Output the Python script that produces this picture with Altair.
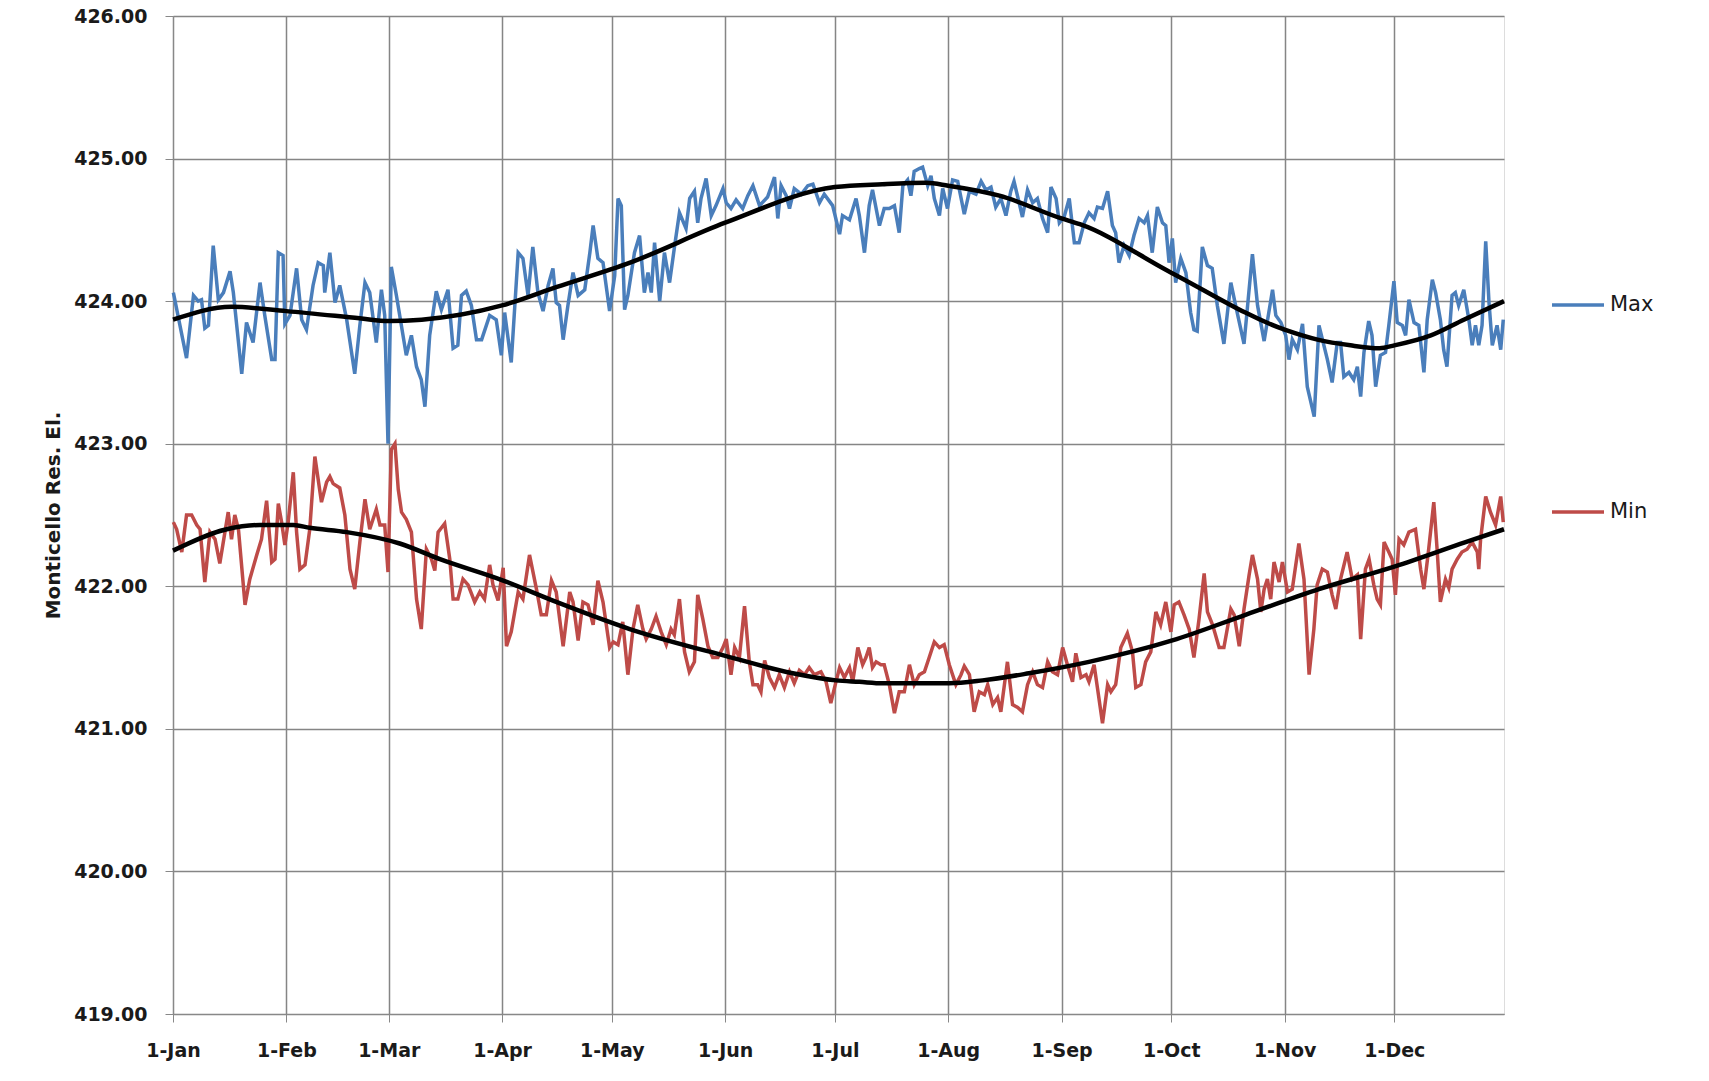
import altair as alt
import pandas as pd

# ---- axis labels ----
month_labels = ["1-Jan", "1-Feb", "1-Mar", "1-Apr", "1-May", "1-Jun",
                "1-Jul", "1-Aug", "1-Sep", "1-Oct", "1-Nov", "1-Dec"]
month_days = [0, 31, 59, 90, 120, 151, 181, 212, 243, 273, 304, 334]
y_ticks = [419, 420, 421, 422, 423, 424, 425, 426]

# ---- Max series (day of year, elevation) ----
max_day = [0.1, 3.7, 5.6, 6.9, 7.8, 8.7, 9.7, 11.0, 12.4, 13.8, 15.6, 16.5, 18.8, 20.1, 21.9,
           23.8, 25.1, 27.0, 27.9, 28.8, 30.1, 30.6, 32.0, 33.8, 35.2, 36.5, 38.3, 39.7, 41.1,
           41.5, 42.9, 44.3, 45.6, 47.5, 49.7, 51.1, 52.5, 53.8, 55.6, 57.0, 57.9, 58.8, 59.7,
           61.1, 63.8, 65.2, 66.6, 67.9, 68.9, 70.2, 72.0, 73.4, 75.2, 76.6, 77.9, 78.9, 80.2,
           81.6, 83.0, 84.4, 86.6, 88.4, 89.8, 90.7, 92.5, 94.4, 95.7, 97.1, 98.4, 99.8, 101.2,
           102.6, 103.9, 104.8, 105.7, 106.7, 108.0, 109.4, 110.8, 112.6, 114.0, 114.9, 116.2,
           117.6, 119.4, 120.8, 121.7, 122.6, 123.5, 124.4, 126.2, 127.6, 128.9, 129.9, 130.8,
           131.7, 133.1, 134.4, 135.8, 137.2, 138.5, 140.3, 141.3, 142.6, 143.5, 144.4, 145.8,
           147.2, 148.5, 150.4, 151.3, 152.6, 154.0, 155.8, 157.2, 158.6, 160.4, 162.6, 164.5,
           165.4, 166.3, 167.7, 168.6, 169.9, 171.8, 173.6, 175.0, 176.8, 178.1, 180.4, 182.3,
           183.1, 185.0, 186.8, 187.7, 189.1, 190.4, 191.3, 193.2, 194.5, 195.9, 197.3, 198.6,
           199.6, 200.9, 201.8, 202.7, 204.1, 205.0, 206.4, 207.3, 208.2, 209.6, 210.5, 211.8,
           213.2, 214.6, 216.4, 217.8, 219.6, 221.0, 222.3, 223.7, 225.0, 226.4, 227.8, 229.1,
           230.0, 231.4, 232.3, 233.7, 235.1, 236.4, 237.8, 239.2, 240.1, 241.5, 242.4, 243.7,
           245.1, 246.5, 247.8, 249.2, 250.5, 251.9, 252.8, 254.2, 255.6, 256.9, 257.8, 258.7,
           260.1, 261.5, 262.8, 264.2, 265.6, 266.5, 267.8, 269.2, 270.6, 271.5, 272.4, 273.3,
           274.2, 275.6, 277.0, 278.3, 279.2, 280.1, 281.5, 282.9, 284.2, 285.6, 287.4, 289.3,
           290.6, 292.9, 295.2, 296.6, 298.4, 300.7, 301.6, 303.0, 304.3, 305.2, 306.1, 307.5,
           308.9, 310.2, 312.1, 313.4, 315.7, 317.0, 318.4, 319.3, 320.2, 321.6, 322.9, 323.9,
           324.8, 325.7, 327.0, 327.9, 328.9, 330.2, 331.6, 332.5, 333.9, 334.8, 336.2, 337.1,
           338.0, 339.4, 340.7, 342.1, 343.0, 344.4, 345.3, 346.6, 347.5, 348.4, 349.8, 350.7,
           351.6, 353.0, 354.4, 355.3, 356.2, 357.1, 358.0, 359.0, 359.9, 360.8, 362.1, 363.1,
           363.8]
max_val = [424.06, 423.60, 424.04, 424.00, 424.01, 423.81, 423.83, 424.39, 424.01, 424.06, 424.21,
           424.06, 423.49, 423.85, 423.71, 424.13, 423.90, 423.59, 423.59, 424.34, 424.32, 423.84,
           423.90, 424.23, 423.87, 423.80, 424.11, 424.27, 424.25, 424.06, 424.34, 423.99, 424.11,
           423.87, 423.49, 423.83, 424.13, 424.06, 423.71, 424.08, 423.90, 423.00, 424.24, 424.04,
           423.62, 423.76, 423.54, 423.45, 423.26, 423.76, 424.07, 423.94, 424.08, 423.67, 423.69,
           424.04, 424.07, 423.97, 423.73, 423.73, 423.90, 423.87, 423.62, 423.92, 423.57, 424.34,
           424.30, 424.04, 424.38, 424.06, 423.93, 424.11, 424.23, 423.99, 423.97, 423.73, 423.97,
           424.20, 424.04, 424.08, 424.34, 424.53, 424.30, 424.27, 423.93, 424.18, 424.72, 424.67,
           423.94, 424.04, 424.34, 424.46, 424.06, 424.20, 424.06, 424.41, 424.00, 424.34, 424.13,
           424.39, 424.62, 424.51, 424.72, 424.77, 424.55, 424.72, 424.86, 424.60, 424.67, 424.79,
           424.69, 424.65, 424.71, 424.65, 424.74, 424.81, 424.67, 424.73, 424.87, 424.58, 424.81,
           424.74, 424.65, 424.79, 424.75, 424.81, 424.82, 424.69, 424.75, 424.67, 424.47, 424.60,
           424.57, 424.72, 424.60, 424.34, 424.67, 424.78, 424.53, 424.65, 424.65, 424.67, 424.48,
           424.81, 424.85, 424.74, 424.91, 424.93, 424.94, 424.81, 424.88, 424.72, 424.60, 424.79,
           424.65, 424.85, 424.84, 424.61, 424.77, 424.75, 424.84, 424.78, 424.80, 424.66, 424.72,
           424.60, 424.77, 424.84, 424.69, 424.59, 424.78, 424.69, 424.72, 424.58, 424.48, 424.80,
           424.72, 424.55, 424.59, 424.72, 424.41, 424.41, 424.55, 424.62, 424.58, 424.66, 424.65,
           424.77, 424.53, 424.48, 424.27, 424.39, 424.32, 424.46, 424.58, 424.55, 424.60, 424.34,
           424.66, 424.55, 424.53, 424.27, 424.44, 424.13, 424.30, 424.20, 423.92, 423.80, 423.79,
           424.38, 424.25, 424.23, 423.97, 423.70, 424.13, 423.97, 423.70, 424.33, 423.97, 423.72,
           424.08, 423.90, 423.85, 423.76, 423.59, 423.73, 423.66, 423.84, 423.40, 423.19, 423.83,
           423.59, 423.43, 423.71, 423.71, 423.47, 423.50, 423.45, 423.54, 423.33, 423.64, 423.86,
           423.76, 423.40, 423.62, 423.64, 423.83, 424.14, 423.85, 423.83, 423.76, 424.01, 423.85,
           423.83, 423.50, 423.87, 424.15, 424.06, 423.87, 423.66, 423.54, 424.04, 424.06, 423.97,
           424.08, 423.87, 423.69, 423.83, 423.69, 423.83, 424.42, 423.99, 423.69, 423.83, 423.66,
           423.87]

# ---- Min series ----
min_day = [0.1, 1.0, 2.4, 3.7, 5.1, 6.5, 7.4, 8.7, 10.1, 11.5, 12.8, 14.2, 15.1, 16.0, 16.9,
           17.9, 19.7, 21.0, 22.9, 24.2, 25.6, 27.0, 27.9, 28.8, 29.7, 30.6, 31.5, 32.9, 33.8,
           34.7, 36.1, 37.4, 38.8, 40.6, 42.0, 42.9, 43.8, 45.6, 47.0, 48.4, 49.7, 51.1, 52.5,
           53.8, 55.6, 56.6, 57.9, 58.8, 59.7, 60.7, 61.6, 62.5, 63.8, 65.2, 66.6, 67.9, 69.3,
           70.7, 71.6, 72.5, 74.3, 75.7, 76.6, 77.9, 79.3, 80.7, 82.5, 83.9, 85.2, 86.6, 87.5,
           88.9, 90.3, 91.2, 92.5, 94.4, 95.7, 97.5, 99.4, 100.7, 102.1, 103.5, 104.8, 106.7,
           108.5, 109.4, 110.8, 112.1, 113.5, 114.9, 116.2, 117.6, 119.4, 120.4, 121.7, 123.0,
           124.4, 125.8, 127.1, 128.5, 129.4, 130.8, 132.1, 133.5, 134.9, 136.2, 137.1, 138.5,
           139.9, 141.2, 142.6, 143.5, 144.9, 146.3, 147.6, 149.0, 150.4, 151.3, 152.6, 153.6,
           154.9, 156.3, 157.6, 158.6, 159.9, 160.8, 161.8, 163.1, 164.5, 165.8, 167.2, 168.6,
           169.9, 171.3, 172.7, 174.0, 175.4, 177.2, 178.6, 179.9, 181.3, 182.3, 183.6, 185.0,
           185.9, 187.3, 188.6, 189.5, 190.4, 191.3, 192.3, 193.6, 194.5, 195.9, 197.3, 198.6,
           200.0, 201.4, 202.7, 204.1, 205.5, 206.8, 208.2, 209.6, 210.9, 212.3, 214.1, 215.5,
           216.4, 217.8, 219.1, 220.5, 221.9, 222.8, 224.2, 225.5, 226.4, 228.2, 229.6, 231.0,
           232.3, 233.7, 235.1, 236.4, 237.8, 239.2, 240.5, 241.9, 243.3, 244.6, 246.0, 246.9,
           248.3, 249.7, 250.5, 251.9, 252.8, 254.2, 255.6, 256.5, 257.8, 259.2, 261.0, 262.4,
           263.3, 264.7, 266.0, 267.4, 268.8, 270.1, 271.5, 272.9, 273.8, 275.1, 276.5, 277.9,
           279.2, 280.6, 282.0, 282.9, 284.3, 286.1, 287.4, 289.3, 290.2, 291.6, 292.9, 294.3,
           295.2, 296.6, 297.5, 298.4, 299.3, 300.2, 301.1, 302.5, 303.4, 304.8, 306.1, 307.9,
           309.3, 310.7, 312.0, 312.9, 314.3, 315.7, 317.0, 318.0, 319.3, 321.1, 322.5, 323.9,
           324.8, 326.1, 327.1, 328.4, 329.3, 330.2, 331.2, 332.5, 333.4, 334.3, 335.3, 336.6,
           338.0, 339.8, 341.2, 342.1, 343.4, 344.8, 345.7, 346.6, 348.0, 348.9, 349.8, 351.2,
           352.5, 353.9, 355.3, 356.7, 357.1, 357.6, 359.0, 360.3, 361.7, 363.1, 363.8]
min_val = [422.45, 422.40, 422.24, 422.50, 422.50, 422.43, 422.40, 422.03, 422.38, 422.33, 422.16,
           422.38, 422.52, 422.33, 422.50, 422.40, 421.87, 422.05, 422.22, 422.33, 422.60, 422.17,
           422.19, 422.58, 422.45, 422.29, 422.45, 422.80, 422.38, 422.12, 422.15, 422.40, 422.91,
           422.59, 422.73, 422.77, 422.72, 422.69, 422.50, 422.12, 421.98, 422.31, 422.61, 422.40,
           422.54, 422.43, 422.43, 422.10, 422.96, 423.00, 422.68, 422.52, 422.47, 422.38, 421.91,
           421.70, 422.26, 422.19, 422.11, 422.38, 422.44, 422.19, 421.91, 421.91, 422.05, 422.01,
           421.89, 421.96, 421.91, 422.15, 422.01, 421.90, 422.13, 421.58, 421.68, 421.96, 421.91,
           422.22, 421.98, 421.80, 421.80, 422.04, 421.96, 421.58, 421.96, 421.89, 421.62, 421.89,
           421.87, 421.73, 422.04, 421.89, 421.57, 421.61, 421.59, 421.75, 421.38, 421.70, 421.87,
           421.70, 421.63, 421.70, 421.79, 421.68, 421.59, 421.70, 421.66, 421.91, 421.54, 421.40,
           421.47, 421.94, 421.77, 421.58, 421.50, 421.50, 421.57, 421.63, 421.38, 421.57, 421.50,
           421.86, 421.47, 421.31, 421.31, 421.26, 421.48, 421.36, 421.29, 421.38, 421.29, 421.40,
           421.32, 421.41, 421.38, 421.43, 421.38, 421.40, 421.33, 421.18, 421.33, 421.43, 421.36,
           421.43, 421.33, 421.57, 421.45, 421.50, 421.57, 421.43, 421.47, 421.45, 421.45, 421.31,
           421.11, 421.26, 421.26, 421.45, 421.31, 421.38, 421.40, 421.50, 421.61, 421.57, 421.59,
           421.45, 421.31, 421.38, 421.44, 421.38, 421.12, 421.26, 421.24, 421.31, 421.17, 421.22,
           421.12, 421.47, 421.17, 421.15, 421.12, 421.31, 421.40, 421.31, 421.29, 421.47, 421.40,
           421.38, 421.57, 421.45, 421.33, 421.53, 421.36, 421.38, 421.33, 421.45, 421.29, 421.04,
           421.31, 421.26, 421.31, 421.57, 421.67, 421.54, 421.29, 421.31, 421.47, 421.54, 421.82,
           421.73, 421.89, 421.68, 421.87, 421.89, 421.80, 421.70, 421.50, 421.77, 422.09, 421.82,
           421.73, 421.57, 421.57, 421.84, 421.80, 421.58, 421.84, 422.08, 422.22, 422.05, 421.82,
           421.98, 422.05, 421.91, 422.17, 422.03, 422.17, 421.96, 421.98, 422.30, 422.05, 421.38,
           421.70, 422.01, 422.12, 422.10, 421.94, 421.84, 422.05, 422.24, 422.05, 422.08, 421.63,
           422.12, 422.19, 422.01, 421.91, 421.87, 422.31, 422.24, 422.19, 421.94, 422.33, 422.29,
           422.38, 422.40, 422.12, 421.98, 422.26, 422.59, 422.26, 421.89, 422.05, 421.99, 422.12,
           422.19, 422.24, 422.26, 422.31, 422.24, 422.12, 422.33, 422.63, 422.52, 422.43, 422.63,
           422.45]

# ---- trend curves ----
max_trend_day = [0, 16, 31, 51, 59, 68, 90, 105, 125, 151, 181, 194, 206, 212, 226, 243, 248,
                 273, 304, 313, 322, 330, 334, 344, 353, 364]
max_trend_val = [423.87, 423.96, 423.93, 423.88, 423.86, 423.87, 423.97, 424.10, 424.27, 424.55,
                 424.80, 424.82, 424.83, 424.81, 424.74, 424.58, 424.54, 424.20, 423.80, 423.73,
                 423.69, 423.67, 423.69, 423.76, 423.87, 424.00]
min_trend_day = [0, 14.7, 23.8, 32.9, 37.4, 47.5, 62, 73, 90.3, 104.8, 124.9, 151.3, 169.5,
                 181.3, 187.7, 194.1, 212.3, 221.4, 234.1, 250.5, 273.3, 293.3, 313.4, 334.2,
                 353.5, 364]
min_trend_val = [422.25, 422.40, 422.43, 422.43, 422.41, 422.38, 422.30, 422.19, 422.04, 421.89,
                 421.70, 421.51, 421.39, 421.34, 421.33, 421.32, 421.32, 421.34, 421.39, 421.47,
                 421.62, 421.80, 421.98, 422.14, 422.31, 422.40]

series_names = ["Max", "Min"]
series_colors = ["#4A7EBB", "#BE4B48"]

data = pd.DataFrame({
    "day": max_day + min_day,
    "value": max_val + min_val,
    "series": ["Max"] * len(max_day) + ["Min"] * len(min_day),
})
trend = pd.DataFrame({
    "day": max_trend_day + min_trend_day,
    "value": max_trend_val + min_trend_val,
    "series": ["Max"] * len(max_trend_day) + ["Min"] * len(min_trend_day),
})

label_expr = ("[" + ",".join("'" + s + "'" for s in month_labels) + "][indexof(["
              + ",".join(str(d) for d in month_days) + "], datum.value)]")

FONT = "DejaVu Sans"
GRID = "#858585"
x_enc = alt.X("day:Q",
              scale=alt.Scale(domain=[0, 364], nice=False, zero=False),
              axis=alt.Axis(values=month_days, labelExpr=label_expr, title=None,
                            grid=True, gridColor=GRID, gridWidth=1.5,
                            tickSize=8, labelPadding=19,
                            labelFont=FONT, labelFontSize=19, labelFontWeight="bold",
                            labelColor="#1a1a1a", labelFlush=False, labelOverlap=False))
y_enc = alt.Y("value:Q",
              scale=alt.Scale(domain=[419, 426], nice=False, zero=False),
              axis=alt.Axis(values=y_ticks, format=".2f", title="Monticello Res. El.",
                            grid=True, gridColor=GRID, gridWidth=1.5,
                            tickSize=8, labelPadding=18,
                            labelFont=FONT, labelFontSize=19, labelFontWeight="bold",
                            labelColor="#1a1a1a", titleFont=FONT, titleFontSize=20,
                            titleFontWeight="bold", titleColor="#1a1a1a", titlePadding=10))

lines = alt.Chart(data).mark_line(strokeWidth=3.5).encode(
    x=x_enc, y=y_enc,
    color=alt.Color("series:N",
                    scale=alt.Scale(domain=series_names, range=series_colors),
                    legend=alt.Legend(orient="none", legendX=1377, legendY=261, title=None,
                                      symbolType="stroke", symbolSize=2704,
                                      symbolStrokeWidth=3.5, labelFont=FONT,
                                      labelFontSize=21, labelColor="#1a1a1a",
                                      labelOffset=4, rowPadding=169)),
    order="day:Q",
)

trends = alt.Chart(trend).mark_line(strokeWidth=4.5, color="black", interpolate="monotone").encode(
    x="day:Q", y="value:Q", detail="series:N", order="day:Q")

chart = alt.layer(lines, trends).properties(
    width=1331, height=998,
    autosize="none",
    padding={"left": 173, "top": 16, "right": 205, "bottom": 67},
).configure_view(stroke="#303030", strokeWidth=1.5).configure_axis(
    domainColor="#404040", domainWidth=1.5,
    tickColor="#404040", tickWidth=1.5,
).configure(background="white")

chart.save("out.html", embed_options={"renderer": "svg", "actions": False})
